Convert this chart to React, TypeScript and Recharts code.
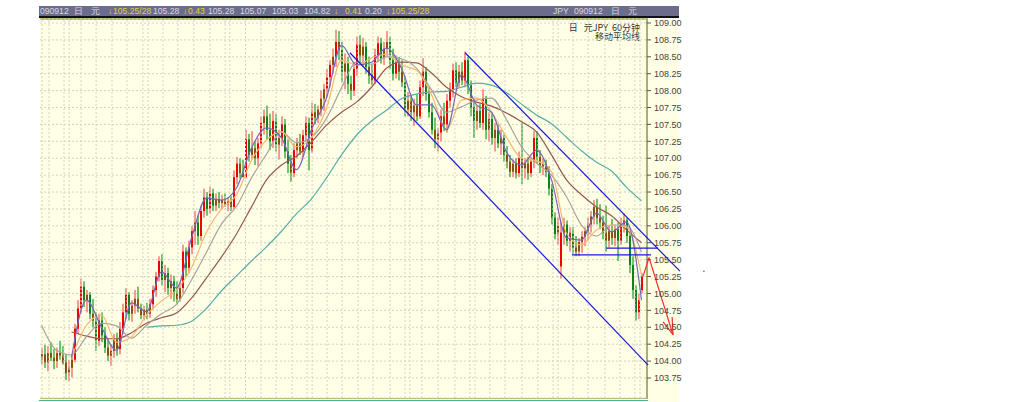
import { ComposedChart, Bar, Line, XAxis, YAxis, CartesianGrid, ReferenceLine, ReferenceDot } from "recharts"

// hourly USD/JPY bars
const opens = [
  104.05, 104.10, 103.98, 104.12, 104.05, 104.00, 104.12, 104.08, 103.98, 103.82,
  103.90, 104.02, 104.48, 104.78, 105.10, 104.90, 104.98, 104.70, 104.60, 104.30,
  104.60, 104.38, 104.20, 104.08, 104.15, 104.32, 104.18, 104.48, 104.72, 104.98,
  104.70, 104.82, 104.92, 104.78, 104.68, 104.76, 104.70, 104.84, 105.05, 105.25,
  105.48, 105.20, 105.30, 105.08, 105.18, 105.00, 104.92, 105.08, 105.62, 105.38,
  105.68, 105.92, 106.05, 105.85, 106.22, 106.42, 106.25, 106.48, 106.30, 106.40,
  106.34, 106.38, 106.32, 106.36, 106.28, 106.72, 106.92, 106.78, 106.72, 107.28,
  107.05, 107.15, 107.00, 107.22, 107.52, 107.62, 107.42, 107.25, 107.55, 107.20,
  107.30, 107.50, 107.10, 106.92, 106.78, 107.12, 107.22, 107.10, 107.34, 107.52,
  107.12, 107.68, 107.60, 107.72, 107.88, 108.02, 108.20, 108.38, 108.50, 108.72,
  108.60, 108.28, 108.40, 108.10, 108.00, 108.32, 108.68, 108.52, 108.65, 108.35,
  108.22, 108.15, 108.52, 108.70, 108.48, 108.62, 108.72, 108.45, 108.25, 108.42,
  108.28, 108.12, 107.72, 107.85, 107.68, 107.78, 107.62, 108.05, 108.28, 107.95,
  107.68, 107.42, 107.28, 107.38, 107.62, 107.50, 107.85, 108.02, 108.30, 108.12,
  108.28, 108.15, 108.45, 108.08, 107.75, 107.55, 107.70, 107.52, 107.88, 107.42,
  107.58, 107.30, 107.42, 107.22, 107.30, 107.05, 106.95, 106.80, 106.92, 106.78,
  107.00, 106.85, 106.92, 106.78, 106.95, 107.30, 107.02, 106.88, 106.92, 106.80,
  106.55, 106.12, 105.88, 105.40, 105.90, 106.02, 105.78, 105.90, 105.68, 105.62,
  105.76, 105.84, 105.92, 106.02, 106.14, 106.28, 106.12, 106.05, 105.90, 105.78,
  105.92, 105.82, 105.95, 105.78, 106.02, 106.08, 105.85, 105.42, 105.05, 104.72,
  105.05,
]
const highs = [
  104.20, 104.24, 104.22, 104.28, 104.18, 104.20, 104.30, 104.22, 104.10, 104.02,
  104.10, 104.55, 104.90, 105.22, 105.18, 105.05, 105.02, 104.92, 104.72, 104.70,
  104.72, 104.50, 104.32, 104.25, 104.40, 104.42, 104.58, 104.85, 105.08, 105.02,
  104.90, 105.05, 105.10, 104.85, 104.82, 104.86, 104.92, 105.12, 105.32, 105.55,
  105.58, 105.42, 105.38, 105.28, 105.26, 105.18, 105.15, 105.72, 105.68, 105.78,
  106.00, 106.22, 106.15, 106.30, 106.55, 106.50, 106.58, 106.55, 106.48, 106.50,
  106.46, 106.48, 106.42, 106.44, 106.82, 107.02, 107.00, 106.98, 107.42, 107.36,
  107.40, 107.25, 107.30, 107.62, 107.72, 107.78, 107.66, 107.70, 107.65, 107.42,
  107.62, 107.58, 107.28, 107.05, 107.22, 107.30, 107.36, 107.42, 107.62, 107.60,
  107.82, 107.80, 107.78, 108.00, 108.10, 108.32, 108.45, 108.62, 108.90, 108.88,
  108.72, 108.55, 108.50, 108.22, 108.42, 108.80, 108.82, 108.78, 108.72, 108.50,
  108.40, 108.62, 108.80, 108.78, 108.72, 108.88, 108.80, 108.62, 108.52, 108.50,
  108.45, 108.22, 107.98, 107.92, 107.88, 107.95, 108.15, 108.48, 108.35, 108.05,
  107.82, 107.60, 107.45, 107.72, 107.82, 107.95, 108.12, 108.40, 108.42, 108.38,
  108.42, 108.58, 108.50, 108.15, 107.88, 107.78, 107.80, 108.02, 107.92, 107.68,
  107.66, 107.52, 107.50, 107.42, 107.35, 107.18, 107.05, 106.98, 107.00, 107.10,
  107.52, 107.00, 107.02, 107.02, 107.40, 107.40, 107.12, 107.00, 106.98, 106.88,
  106.62, 106.20, 106.12, 106.05, 106.12, 106.08, 105.98, 105.98, 105.85, 105.82,
  105.92, 105.98, 106.12, 106.22, 106.38, 106.40, 106.32, 106.15, 106.30, 106.00,
  106.10, 106.02, 106.05, 106.12, 106.18, 106.12, 105.92, 105.55, 105.12, 105.00,
  105.30,
]
const lows = [
  103.95, 103.90, 103.85, 104.00, 103.88, 103.90, 104.02, 103.95, 103.72, 103.70,
  103.76, 103.98, 104.40, 104.70, 104.80, 104.72, 104.62, 104.50, 104.15, 104.22,
  104.28, 104.12, 104.00, 103.93, 104.05, 104.08, 104.10, 104.40, 104.62, 104.60,
  104.58, 104.70, 104.72, 104.62, 104.60, 104.62, 104.64, 104.76, 104.95, 105.18,
  105.12, 105.02, 104.98, 104.92, 104.88, 104.85, 104.88, 105.00, 105.25, 105.30,
  105.58, 105.72, 105.72, 105.78, 106.12, 106.15, 106.18, 106.22, 106.22, 106.26,
  106.24, 106.28, 106.22, 106.22, 106.25, 106.62, 106.70, 106.72, 106.70, 106.95,
  106.98, 106.90, 106.88, 107.15, 107.35, 107.28, 107.12, 107.15, 107.10, 106.98,
  107.18, 107.00, 106.78, 106.65, 106.72, 107.00, 107.05, 107.02, 107.25, 106.82,
  107.08, 107.50, 107.52, 107.62, 107.70, 107.90, 108.05, 108.25, 108.35, 108.45,
  108.12, 108.02, 107.95, 107.86, 107.92, 108.22, 108.40, 108.35, 108.25, 108.10,
  108.08, 108.10, 108.42, 108.40, 108.38, 108.50, 108.32, 108.15, 108.18, 108.15,
  108.05, 107.62, 107.62, 107.55, 107.48, 107.55, 107.58, 107.92, 107.85, 107.60,
  107.35, 107.15, 107.10, 107.25, 107.40, 107.38, 107.75, 107.90, 108.05, 108.05,
  108.08, 108.05, 107.95, 107.62, 107.30, 107.42, 107.45, 107.42, 107.28, 107.25,
  107.20, 107.10, 107.15, 107.05, 106.95, 106.85, 106.72, 106.72, 106.70, 106.72,
  106.62, 106.70, 106.68, 106.72, 106.85, 106.92, 106.78, 106.75, 106.72, 106.45,
  106.02, 105.80, 105.72, 105.22, 105.72, 105.70, 105.62, 105.58, 105.55, 105.55,
  105.60, 105.70, 105.80, 105.90, 106.02, 106.02, 105.95, 105.80, 105.62, 105.68,
  105.72, 105.70, 105.48, 105.72, 105.90, 105.75, 105.30, 104.92, 104.60, 104.62,
  105.00,
]
const closes = [
  104.10, 103.98, 104.12, 104.05, 104.00, 104.12, 104.08, 103.98, 103.82, 103.90,
  104.02, 104.48, 104.78, 105.10, 104.90, 104.98, 104.70, 104.60, 104.30, 104.60,
  104.38, 104.20, 104.08, 104.15, 104.32, 104.18, 104.48, 104.72, 104.98, 104.70,
  104.82, 104.92, 104.78, 104.68, 104.76, 104.70, 104.84, 105.05, 105.25, 105.48,
  105.20, 105.30, 105.08, 105.18, 105.00, 104.92, 105.08, 105.62, 105.38, 105.68,
  105.92, 106.05, 105.85, 106.22, 106.42, 106.25, 106.48, 106.30, 106.40, 106.34,
  106.38, 106.32, 106.36, 106.28, 106.72, 106.92, 106.78, 106.72, 107.28, 107.05,
  107.15, 107.00, 107.22, 107.52, 107.62, 107.42, 107.25, 107.55, 107.20, 107.30,
  107.50, 107.10, 106.92, 106.78, 107.12, 107.22, 107.10, 107.34, 107.52, 107.12,
  107.68, 107.60, 107.72, 107.88, 108.02, 108.20, 108.38, 108.50, 108.72, 108.60,
  108.28, 108.40, 108.10, 108.00, 108.32, 108.68, 108.52, 108.65, 108.35, 108.22,
  108.15, 108.52, 108.70, 108.48, 108.62, 108.72, 108.45, 108.25, 108.42, 108.28,
  108.12, 107.72, 107.85, 107.68, 107.78, 107.62, 108.05, 108.28, 107.95, 107.68,
  107.42, 107.28, 107.38, 107.62, 107.50, 107.85, 108.02, 108.30, 108.12, 108.28,
  108.15, 108.45, 108.08, 107.75, 107.55, 107.70, 107.52, 107.88, 107.42, 107.58,
  107.30, 107.42, 107.22, 107.30, 107.05, 106.95, 106.80, 106.92, 106.78, 107.00,
  106.85, 106.92, 106.78, 106.95, 107.30, 107.02, 106.88, 106.92, 106.80, 106.55,
  106.12, 105.88, 106.00, 105.90, 106.02, 105.78, 105.90, 105.68, 105.62, 105.76,
  105.84, 105.92, 106.02, 106.14, 106.28, 106.12, 106.05, 105.90, 105.78, 105.92,
  105.82, 105.95, 105.78, 106.02, 106.08, 105.85, 105.42, 105.05, 104.72, 104.90,
  105.25,
]

// moving averages, one reading every 5 bars
const MA_STEP = 5
const maFast = [
  null, null, 104.05, 104.90, 104.50, 104.16, 104.86, 104.73, 105.32, 105.08,
  105.82, 106.41, 106.38, 106.56, 107.15, 107.45, 107.30, 106.83, 107.42, 107.89,
  108.67, 108.38, 108.42, 108.63, 108.33, 107.79, 107.79, 107.42, 108.23, 107.79,
  107.68, 107.09, 106.90, 107.12, 106.68, 105.82, 105.79, 106.19, 105.91, 106.06,
  104.90,
]
const maOrange = [
  null, null, 104.05, 104.53, 104.68, 104.28, 104.36, 104.68, 104.89, 105.05,
  105.38, 105.91, 106.25, 106.46, 106.97, 107.27, 107.39, 107.17, 107.31, 107.74,
  108.45, 108.38, 108.48, 108.54, 108.38, 108.30, 107.94, 107.42, 107.86, 107.89,
  107.68, 107.31, 107.00, 106.96, 106.80, 105.89, 105.72, 105.94, 106.01, 105.98,
  105.27,
]
const maGray = [
  104.53, 104.16, 104.09, 104.36, 104.56, 104.52, 104.34, 104.53, 104.70, 104.84,
  105.20, 105.61, 106.03, 106.29, 106.71, 107.06, 107.39, 107.23, 107.31, 107.59,
  108.04, 108.42, 108.39, 108.50, 108.47, 108.33, 108.01, 107.68, 107.76, 107.86,
  107.89, 107.57, 107.17, 106.93, 106.75, 106.43, 106.01, 105.85, 106.01, 106.00,
  105.61,
]
const maBrown = [
  null, null, 104.43, 104.37, 104.33, 104.33, 104.42, 104.56, 104.64, 104.71,
  104.93, 105.23, 105.54, 105.88, 106.28, 106.68, 106.90, 107.03, 107.24, 107.49,
  107.68, 107.83, 108.05, 108.33, 108.42, 108.41, 108.26, 108.05, 107.91, 107.83,
  107.77, 107.67, 107.54, 107.39, 107.05, 106.68, 106.46, 106.28, 106.15, 105.94,
  105.75,
]
const maTeal = [
  null, null, null, null, null, null, null, 104.50, 104.52, 104.53,
  104.59, 104.78, 105.04, 105.26, 105.48, 105.69, 105.92, 106.18, 106.40, 106.71,
  107.05, 107.34, 107.55, 107.71, 107.88, 107.95, 107.98, 107.99, 108.05, 108.11,
  108.08, 107.97, 107.80, 107.64, 107.51, 107.31, 107.11, 106.94, 106.81, 106.57,
  106.37,
]

const priceTicks = [
  103.75, 104, 104.25, 104.5, 104.75, 105, 105.25, 105.5, 105.75, 106, 106.25,
  106.5, 106.75, 107, 107.25, 107.5, 107.75, 108, 108.25, 108.5, 108.75, 109,
]
const gridBars = [
  0.2, 2.5, 7.5, 9.2, 13.2, 18.2, 23.5, 28.5, 33.8, 35.5, 40.5, 45.5, 50.8, 56.2, 61.2, 62.8,
  68, 73.2, 78.2, 83.5, 88.5, 90.2, 95.2, 100.2, 105.5, 110.5, 116.2, 121.2, 122.8, 126.8,
  132.2, 137.8, 142.8, 144.5, 149.5, 154.5, 160.2, 165.5, 170.5, 172.2, 177.2, 182.2, 187.8,
  192.8, 197.8, 199.5,
]

// hand-drawn annotations as [bar, price, bar, price]
const blueLines = [
  [102.8, 108.56, 202.2, 103.94],
  [141.2, 108.56, 212.8, 105.33],
  [176.8, 105.57, 203.2, 105.57],
  [188.2, 105.67, 205.5, 105.67],
]
const redLines = [
  [200.5, 105.25, 202.5, 105.53],
  [202.5, 105.53, 210.5, 104.39],
  [207.2, 104.58, 210.5, 104.39],
  [210.2, 104.65, 210.5, 104.39],
]

const headerItems: [number, string, string][] = [
  [40, "090912", "#d8d8e0"],
  [74, "日", "#d8d8e0"],
  [91, "元", "#d8d8e0"],
  [108, "↓", "#e0d040"],
  [113, "105.25/28", "#e0d040"],
  [153, "105.28", "#d8d8e0"],
  [183, "↓", "#e0d040"],
  [188, "0.43", "#e0d040"],
  [208, "105.28", "#d8d8e0"],
  [240, "105.07", "#d8d8e0"],
  [272, "105.03", "#d8d8e0"],
  [304, "104.82", "#d8d8e0"],
  [334, "↓", "#e0d040"],
  [345, "0.41", "#e0d040"],
  [365, "0.20", "#d8d8e0"],
  [386, "↓", "#e0d040"],
  [391, "105.25/28", "#e0d040"],
  [553, "JPY", "#d8d8e0"],
  [574, "090912", "#d8d8e0"],
  [611, "日", "#d8d8e0"],
  [628, "元", "#d8d8e0"],
]

const bars = opens.map((open, i) => ({
  bar: i,
  open,
  high: highs[i],
  low: lows[i],
  close: closes[i],
  maFast: i % MA_STEP === 0 ? maFast[i / MA_STEP] : null,
  maOrange: i % MA_STEP === 0 ? maOrange[i / MA_STEP] : null,
  maGray: i % MA_STEP === 0 ? maGray[i / MA_STEP] : null,
  maBrown: i % MA_STEP === 0 ? maBrown[i / MA_STEP] : null,
  maTeal: i % MA_STEP === 0 ? maTeal[i / MA_STEP] : null,
}))

function Candle(props: any) {
  const { x, y, width, height, payload } = props
  const top = Math.min(y, y + height)
  const h = Math.abs(height)
  const perPrice = h / (payload.high - payload.low)
  const bodyTop = top + (payload.high - Math.max(payload.open, payload.close)) * perPrice
  const bodyH = Math.max(1, Math.abs(payload.close - payload.open) * perPrice)
  const up = payload.close >= payload.open
  const small = Math.abs(payload.close - payload.open) < 0.17
  const body = small ? "#8a5010" : up ? "#f00000" : "#108020"
  const wick = up ? "#f87878" : "#48b048"
  return (
    <g>
      <rect x={x + width / 2 - 0.75} y={top} width={1.5} height={h} fill={wick} />
      <rect x={x} y={bodyTop} width={width} height={bodyH} fill={body} />
    </g>
  )
}

const maLine = (key: string, color: string) => (
  <Line
    key={key}
    dataKey={key}
    stroke={color}
    strokeWidth={1.2}
    dot={false}
    connectNulls
    type="monotone"
    isAnimationActive={false}
  />
)

const GRID_COLOR = "#d2d2c6"

export default function App() {
  return (
    <div style={{ position: "absolute", left: 0, top: 0, width: 1024, height: 402, background: "#fff", overflow: "hidden" }}>
      <div style={{ position: "absolute", left: 40, top: 19, width: 639, height: 383, background: "#ffffe6" }} />
      <div style={{ position: "absolute", left: 39, top: 6, width: 640, height: 10, background: "#6c6c8c", overflow: "hidden" }}>
        {headerItems.map(([left, label, color], i) => (
          <span
            key={i}
            style={{
              position: "absolute",
              left: left - 39,
              top: -1,
              font: "8.6px/12px 'Liberation Sans', sans-serif",
              color,
              whiteSpace: "nowrap",
            }}
          >
            {label}
          </span>
        ))}
      </div>
      <div style={{ position: "absolute", left: 39, top: 16, width: 640, height: 2, background: "#101018" }} />
      <div style={{ position: "absolute", left: 40, top: 18, width: 608, height: 2, background: "#b4bc60" }} />
      <div style={{ position: "absolute", left: 40, top: 398, width: 607, height: 1, background: "#b8b060" }} />
      <div style={{ position: "absolute", left: 39, top: 400, width: 609, height: 1, background: "#50b0a0" }} />
      <div style={{ position: "absolute", left: 646, top: 19, width: 2, height: 380, background: "#a8b070" }} />
      <div style={{ position: "absolute", left: 560, top: 23, width: 80, font: "9px/9px 'Noto Sans CJK SC', sans-serif", color: "#333", textAlign: "right", whiteSpace: "pre" }}>
        {"日   元JPY  60分钟\n移动平均线"}
      </div>
      <div style={{ position: "absolute", left: 0, top: 0 }}>
        <ComposedChart
          width={1024}
          height={402}
          data={bars}
          margin={{ top: 19, left: 40, right: 344, bottom: 4 }}
        >
          <CartesianGrid stroke={GRID_COLOR} strokeDasharray="2 2" vertical={false} />
          <XAxis
            dataKey="bar"
            type="number"
            domain={[-0.5, 201.83]}
            tick={false}
            axisLine={false}
            tickLine={false}
            height={0}
            allowDataOverflow
          />
          <YAxis
            orientation="right"
            width={33}
            domain={[103.454, 109.059]}
            ticks={priceTicks}
            interval={0}
            allowDataOverflow
            axisLine={false}
            tickSize={4}
            tickMargin={3}
            tickLine={{ stroke: "#555" }}
            tick={{ fontSize: 9, fill: "#444", fontFamily: "Liberation Sans" }}
            tickFormatter={(v: number) => v.toFixed(2)}
          />
          {gridBars.map((b) => (
            <ReferenceLine key={`grid-${b}`} x={b} stroke={GRID_COLOR} strokeDasharray="2 2" />
          ))}
          <Bar dataKey={(d: any) => [d.low, d.high]} barSize={2} shape={<Candle />} isAnimationActive={false} />
          {maLine("maTeal", "#58aca8")}
          {maLine("maBrown", "#96584e")}
          {maLine("maGray", "#a8a49c")}
          {maLine("maOrange", "#f6b870")}
          {maLine("maFast", "#7468b8")}
          {blueLines.map(([x1, y1, x2, y2], i) => (
            <ReferenceLine
              key={`blue-${i}`}
              segment={[{ x: x1, y: y1 }, { x: x2, y: y2 }]}
              stroke="#1818e0"
              strokeWidth={1.2}
              ifOverflow="visible"
            />
          ))}
          {redLines.map(([x1, y1, x2, y2], i) => (
            <ReferenceLine
              key={`red-${i}`}
              segment={[{ x: x1, y: y1 }, { x: x2, y: y2 }]}
              stroke="#f03030"
              strokeWidth={1.2}
              ifOverflow="visible"
            />
          ))}
          <ReferenceDot x={220.8} y={105.33} r={0.7} fill="#1818e0" stroke="none" ifOverflow="visible" />
        </ComposedChart>
      </div>
    </div>
  )
}
